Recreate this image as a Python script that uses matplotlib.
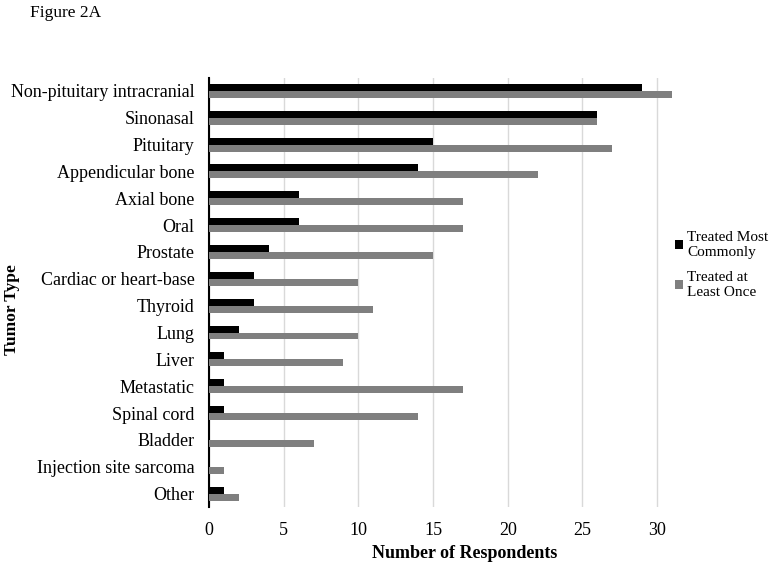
import matplotlib
matplotlib.use("Agg")
import matplotlib.pyplot as plt
import numpy as np

categories = ["Non-pituitary intracranial", "Sinonasal", "Pituitary", "Appendicular bone",
              "Axial bone", "Oral", "Prostate", "Cardiac or heart-base", "Thyroid", "Lung",
              "Liver", "Metastatic", "Spinal cord", "Bladder", "Injection site sarcoma", "Other"]
most_common = [29, 26, 15, 14, 6, 6, 4, 3, 3, 2, 1, 1, 1, 0, 0, 1]
at_least_once = [31, 26, 27, 22, 17, 17, 15, 10, 11, 10, 9, 17, 14, 7, 1, 2]
xticks = [0, 5, 10, 15, 20, 25, 30]

plt.rcParams['font.family'] = ['Liberation Serif', 'DejaVu Serif']

fig = plt.figure(figsize=(7.71, 5.68), dpi=100)
ax = fig.add_axes([209/771, 1-507/568, (672-209)/771, (507-77.5)/568])

y = np.arange(len(categories))
h = 0.26
ax.barh(y - h/2, most_common, height=h, color='black', label='Treated Most\nCommonly', zorder=3)
ax.barh(y + h/2, at_least_once, height=h, color='#7f7f7f', label='Treated at\nLeast Once', zorder=3)

ax.set_ylim(len(categories) - 0.5, -0.5)
ax.set_xlim(0, 31)
ax.set_yticks(y)
ax.set_yticklabels(categories, fontsize=13)
ax.set_xticks(xticks)
ax.set_xticklabels([str(t) for t in xticks], fontsize=13)
ax.tick_params(axis='y', length=0, pad=10.5)
ax.tick_params(axis='x', length=0, pad=11)
ax.xaxis.grid(True, color='#d9d9d9', linewidth=1, zorder=0)
for s in ['top', 'right', 'bottom']:
    ax.spines[s].set_visible(False)
ax.spines['left'].set_color('black')
ax.spines['left'].set_linewidth(1.5)

fig.text(465/771, 1-554/568, 'Number of Respondents', fontsize=13, fontweight='bold',
         va='center', ha='center')
fig.text(12/771, 1-310/568, 'Tumor Type', fontsize=12.5, fontweight='bold',
         rotation=90, va='center', ha='center')

fig.text(30/771, 1-13/568, 'Figure 2A', fontsize=12.5, va='center', ha='left')

fig.legend(loc='center left', bbox_to_anchor=(675/771, 1-265/568), frameon=False,
           fontsize=11, handlelength=0.5, handleheight=0.5, handletextpad=0.3,
           labelspacing=0.75, borderaxespad=0, borderpad=0)

fig.savefig('out.png', dpi=100)
